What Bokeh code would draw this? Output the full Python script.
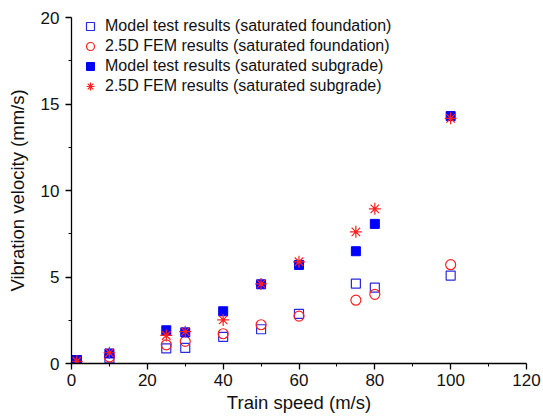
from bokeh.plotting import figure
from bokeh.models import Range1d, Legend, LegendItem
from bokeh.embed import file_html
from bokeh.resources import INLINE

speed = [1.4, 10, 25, 30, 40, 50, 60, 75, 80, 100]
model_found = [0.2, 0.3, 0.87, 0.9, 1.54, 1.98, 2.87, 4.62, 4.39, 5.08]
fem_found = [0.05, 0.38, 1.08, 1.28, 1.72, 2.24, 2.74, 3.66, 4.0, 5.71]
model_sub = [0.2, 0.58, 1.92, 1.8, 3.02, 4.58, 5.7, 6.49, 8.07, 14.3]
fem_sub = [0.13, 0.62, 1.62, 1.84, 2.52, 4.6, 5.88, 7.61, 8.94, 14.17]

labels = ["Model test results (saturated foundation)",
          "2.5D FEM results (saturated foundation)",
          "Model test results (saturated subgrade)",
          "2.5D FEM results (saturated subgrade)"]

FONT = "Liberation Sans"

p = figure(width=543, height=416, output_backend="svg", toolbar_location=None,
           x_range=Range1d(0, 120), y_range=Range1d(0, 20),
           min_border_left=71, min_border_right=17, min_border_top=17, min_border_bottom=53)
p.outline_line_color = None
p.xgrid.visible = False
p.ygrid.visible = False

r1 = p.scatter(speed, model_found, marker="square", size=9, fill_color=None,
               line_color="#2a2ae0", line_width=1.2)
r2 = p.scatter(speed, fem_found, marker="circle", size=10, fill_color=None,
               line_color="#ff2020", line_width=1.2)
r3 = p.scatter(speed, model_sub, marker="square", size=9, fill_color="blue",
               line_color="blue")
r4 = p.scatter(speed, fem_sub, marker="asterisk", size=12, line_color="#ff2020",
               line_width=1.2)
r5 = p.scatter(speed, fem_sub, marker="circle", size=3, fill_color="#ff2020",
               line_color=None)

legend = Legend(items=[LegendItem(label=labels[0], renderers=[r1]),
                       LegendItem(label=labels[1], renderers=[r2]),
                       LegendItem(label=labels[2], renderers=[r3]),
                       LegendItem(label=labels[3], renderers=[r4])],
                location=(9, 267), margin=0, padding=0, spacing=0,
                glyph_width=20, glyph_height=20, label_height=20,
                label_standoff=5, background_fill_alpha=0, border_line_color=None,
                label_text_font=FONT, label_text_font_size="16px",
                label_text_color="#111111")
p.add_layout(legend)

for ax in (p.xaxis, p.yaxis):
    ax.axis_line_color = "black"
    ax.axis_line_width = 1.3
    ax.major_tick_line_color = "black"
    ax.major_tick_line_width = 1.3
    ax.minor_tick_line_color = "black"
    ax.major_tick_out = 6
    ax.major_tick_in = 0
    ax.minor_tick_out = 3
    ax.minor_tick_in = 0
    ax.major_label_text_font = FONT
    ax.major_label_text_font_size = "17px"
    ax.major_label_text_color = "#111111"
    ax.axis_label_text_font = FONT
    ax.axis_label_text_font_size = "18.5px"
    ax.axis_label_text_font_style = "normal"
    ax.axis_label_text_color = "#111111"

p.xaxis.ticker = [0, 20, 40, 60, 80, 100, 120]
p.xaxis.ticker.minor_ticks = [10, 30, 50, 70, 90, 110]
p.yaxis.ticker = [0, 5, 10, 15, 20]
p.yaxis.ticker.minor_ticks = [2.5, 7.5, 12.5, 17.5]
p.xaxis.axis_label = "Train speed (m/s)"
p.yaxis.axis_label = "Vibration velocity (mm/s)"
p.xaxis.major_label_standoff = 4
p.xaxis.axis_label_standoff = 3
p.yaxis.major_label_standoff = 6
p.yaxis.axis_label_standoff = 10

open("out.html", "w").write(file_html(p, INLINE))
